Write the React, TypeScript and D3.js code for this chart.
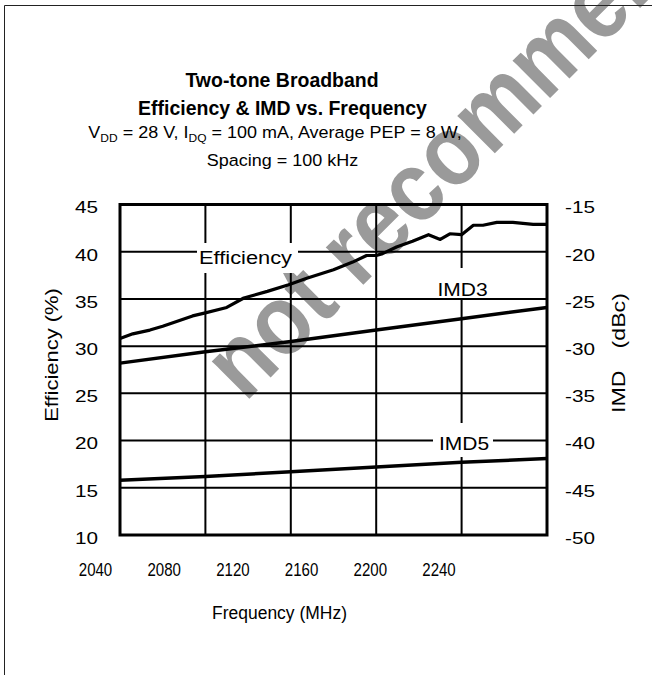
import React from "react";
import * as d3 from "d3";

// ---- data ----
const freqTicks = [2040, 2080, 2120, 2160, 2200, 2240];
const effTicks = [10, 15, 20, 25, 30, 35, 40, 45];
const imdTicks = [-50, -45, -40, -35, -30, -25, -20, -15];

const effFreq = [2040, 2046, 2054, 2060, 2066.5, 2074, 2079.5, 2090, 2098, 2109, 2119, 2127.5, 2140, 2149, 2155.5, 2160, 2163, 2169.5, 2177, 2184.5, 2190, 2194.5, 2200, 2205.5, 2210, 2216.5, 2224, 2233.5, 2240];
const effValues = [30.8, 31.3, 31.7, 32.1, 32.6, 33.2, 33.5, 34.1, 35.1, 35.8, 36.5, 37.2, 38.1, 38.9, 39.6, 39.6, 39.8, 40.5, 41.1, 41.8, 41.3, 41.9, 41.8, 42.8, 42.8, 43.1, 43.1, 42.9, 42.9];

const imdFreq = [2040, 2080, 2120, 2160, 2200, 2240];
const imd3Values = [-31.8, -30.6, -29.5, -28.3, -27.1, -25.9];
const imd5Values = [-44.2, -43.8, -43.3, -42.8, -42.3, -41.9];

const FONT = "'Liberation Sans', Arial, Helvetica, sans-serif";

type STextProps = {
  x: number; y: number; sx?: number; rot?: number; anchor?: string;
  fs: number; weight?: string | number; fill?: string; children: React.ReactNode;
};
function SText({ x, y, sx = 1, rot = 0, anchor = "middle", fs, weight = "normal", fill = "#000", children }: STextProps) {
  return (
    <g transform={`translate(${x},${y}) rotate(${rot}) scale(${sx},1)`}>
      <text textAnchor={anchor as any} fontSize={fs} fontWeight={weight as any} fill={fill} fontFamily={FONT}>
        {children}
      </text>
    </g>
  );
}

export default function App() {
  const W = 652, H = 675;
  const x = d3.scaleLinear().domain([2040, 2240]).range([120, 547]);
  const xLab = d3.scaleLinear().domain([2040, 2240]).range([95.5, 439]);
  const yL = d3.scaleLinear().domain([10, 45]).range([535, 204.5]);
  const yR = d3.scaleLinear().domain([-50, -15]).range([535, 204.5]);

  const effLine = d3.line<number>().x((_, i) => x(effFreq[i])).y((d) => yL(d))(effValues) || "";
  const imd3Line = d3.line<number>().x((_, i) => x(imdFreq[i])).y((d) => yR(d))(imd3Values) || "";
  const imd5Line = d3.line<number>().x((_, i) => x(imdFreq[i])).y((d) => yR(d))(imd5Values) || "";

  const [x0, x1] = x.range();
  const [yb, yt] = yL.range();

  return (
    <svg width={W} height={H} style={{ position: "absolute", left: 0, top: 0, background: "#fff" }}>
      <rect x={0} y={0} width={W} height={H} fill="#fff" />
      {/* watermark */}
      <g transform="translate(245,403) rotate(-45) scale(0.88,1)">
        <text fontSize={100} fontWeight="bold" fill="#9a9a9a" fontFamily={FONT}>not recommended</text>
      </g>
      {/* outer frame */}
      <line x1={4.5} y1={5.5} x2={W + 5} y2={5.5} stroke="#222" strokeWidth={1} />
      <line x1={4.5} y1={5.5} x2={4.5} y2={H + 5} stroke="#222" strokeWidth={1} />

      {/* titles */}
      <SText x={282} y={86.5} fs={20.5} sx={0.95} weight="bold">Two-tone Broadband</SText>
      <SText x={282.5} y={115} fs={20.5} sx={0.95} weight="bold">Efficiency &amp; IMD vs. Frequency</SText>
      <SText x={275} y={138} fs={16.5} sx={1.09}>
        V<tspan fontSize={11} dy={3.5}>DD</tspan><tspan dy={-3.5}> = 28 V, I</tspan><tspan fontSize={11} dy={3.5}>DQ</tspan><tspan dy={-3.5}> = 100 mA, Average PEP = 8 W,</tspan>
      </SText>
      <SText x={282.5} y={165.5} fs={16.5} sx={1.09}>Spacing = 100 kHz</SText>

      {/* gridlines */}
      {freqTicks.slice(1, -1).map((f) => (
        <line key={"v" + f} x1={x(f)} x2={x(f)} y1={yt} y2={yb} stroke="#000" strokeWidth={2} />
      ))}
      {effTicks.slice(1, -1).map((v) => (
        <line key={"h" + v} x1={x0} x2={x1} y1={yL(v)} y2={yL(v)} stroke="#000" strokeWidth={2} />
      ))}

      {/* label boxes */}
      <rect x={197} y={243} width={101} height={30} fill="#fff" />
      <rect x={432} y={268} width={60} height={30} fill="#fff" />
      <rect x={433} y={423} width={60} height={34} fill="#fff" />

      {/* plot frame */}
      <rect x={x0} y={yt} width={x1 - x0} height={yb - yt} fill="none" stroke="#000" strokeWidth={3} />

      {/* curves */}
      <path d={effLine} fill="none" stroke="#000" strokeWidth={3.2} strokeLinejoin="round" />
      <path d={imd3Line} fill="none" stroke="#000" strokeWidth={3.5} />
      <path d={imd5Line} fill="none" stroke="#000" strokeWidth={3.5} />

      {/* curve labels */}
      <SText x={245.5} y={264} fs={18.5} sx={1.18}>Efficiency</SText>
      <SText x={462.5} y={296} fs={17.5} sx={1.2}>IMD3</SText>
      <SText x={464} y={450} fs={17.5} sx={1.2}>IMD5</SText>

      {/* left ticks */}
      {effTicks.map((v) => (
        <SText key={"l" + v} x={98} y={yL(v) + 8.8} fs={17} sx={1.22} anchor="end">{v}</SText>
      ))}
      {imdTicks.map((v) => (
        <SText key={"r" + v} x={565} y={yR(v) + 8.8} fs={17} sx={1.22} anchor="start">{v}</SText>
      ))}
      {freqTicks.map((f) => (
        <SText key={"x" + f} x={xLab(f)} y={576} fs={17.5} sx={0.86}>{f}</SText>
      ))}

      {/* axis titles */}
      <SText x={279.5} y={619} fs={19} sx={0.92}>Frequency (MHz)</SText>
      <SText x={58} y={355} rot={-90} fs={18} sx={1.22}>Efficiency (%)</SText>
      <SText x={625} y={353} rot={-90} fs={19} sx={1.22}>IMD<tspan dx={18}>(dBc)</tspan></SText>
    </svg>
  );
}
